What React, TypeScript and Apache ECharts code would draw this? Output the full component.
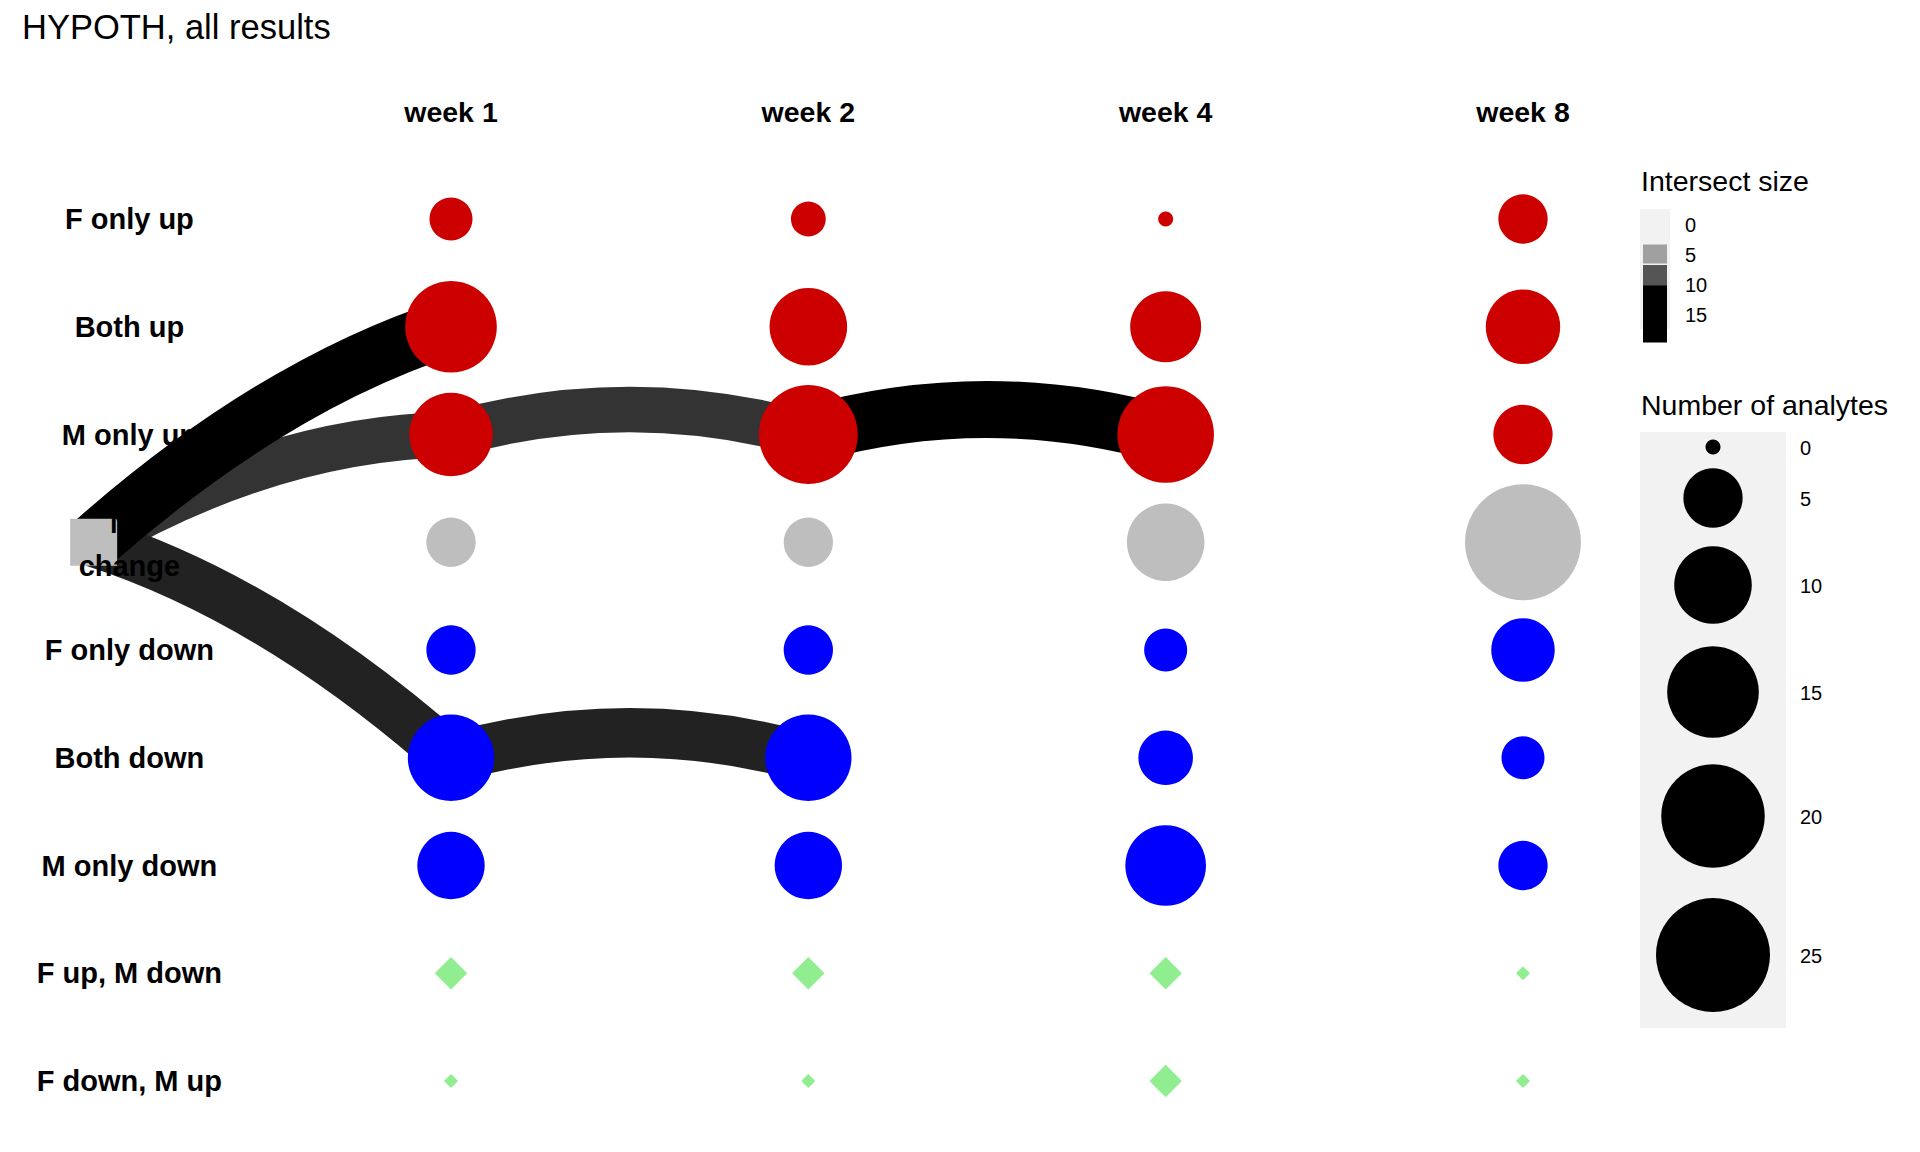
import React, { useEffect, useRef } from "react";
import * as echarts from "echarts";

const TITLE = "HYPOTH, all results";
const ROWS = [
  "F only up",
  "Both up",
  "M only up",
  "No change",
  "F only down",
  "Both down",
  "M only down",
  "F up, M down",
  "F down, M up",
];
const ROW_GROUP = ["up", "up", "up", "none", "down", "down", "down", "mixed", "mixed"];
const WEEKS = ["week 1", "week 2", "week 4", "week 8"];
// number of analytes per row, per week
const WEEK_1 = [2, 15, 12, 3, 3, 13, 7, 1, 0];
const WEEK_2 = [1, 10, 18, 3, 3, 13, 7, 1, 0];
const WEEK_4 = [0, 8, 17, 10, 2, 4, 11, 1, 1];
const WEEK_8 = [3, 9, 5, 26, 6, 2, 3, 0, 0];
const COUNTS = [WEEK_1, WEEK_2, WEEK_4, WEEK_8];

// flows between consecutive columns (column 0 = baseline "No change")
const FLOW_FROM_COL = [0, 1, 0, 1, 0, 2];
const FLOW_FROM_ROW = ["No change", "M only up", "No change", "Both down", "No change", "M only up"];
const FLOW_TO_ROW = ["M only up", "M only up", "Both down", "Both down", "Both up", "M only up"];
const FLOW_SIZE = [12, 12, 13, 13, 15, 15];

const INTERSECT_BREAKS = [0, 5, 10, 15];
const INTERSECT_GREYS = ["#f0f0f0", "#a0a0a0", "#555555", "#000000"];
const ANALYTE_BREAKS = [0, 5, 10, 15, 20, 25];

const GROUP_COLORS: Record<string, string> = {
  up: "#cd0000",
  none: "#bebebe",
  down: "#0000ff",
  mixed: "#90ee90",
};
const GROUP_SYMBOL: Record<string, string> = {
  up: "circle",
  none: "circle",
  down: "circle",
  mixed: "diamond",
};

const FONT = "'Liberation Sans', Arial, Helvetica, sans-serif";
const LABEL_X = 0.1;
const CURVE = 0.14;
const BASELINE_SIZE = 47;

const sizeOf = (n: number) => 15 + 19.8 * Math.sqrt(n);
const widthOf = (n: number) => 3.8 * n;

function hexToRgb(h: string) {
  const v = parseInt(h.slice(1), 16);
  return [(v >> 16) & 255, (v >> 8) & 255, v & 255];
}
function greyOf(n: number) {
  const b = INTERSECT_BREAKS;
  if (n <= b[0]) return INTERSECT_GREYS[0];
  if (n >= b[b.length - 1]) return INTERSECT_GREYS[b.length - 1];
  let i = 0;
  while (n > b[i + 1]) i++;
  const t = (n - b[i]) / (b[i + 1] - b[i]);
  const c0 = hexToRgb(INTERSECT_GREYS[i]);
  const c1 = hexToRgb(INTERSECT_GREYS[i + 1]);
  const c = c0.map((v, k) => Math.round(v + (c1[k] - v) * t));
  return `rgb(${c[0]},${c[1]},${c[2]})`;
}

function txt(text: string, x: number, y: number, fontSize: number, bold = false, align = "left", extra: any = {}) {
  return {
    type: "text",
    x,
    y,
    silent: true,
    z: 100,
    style: {
      text,
      fontSize,
      fontFamily: FONT,
      fontWeight: bold ? "bold" : "normal",
      fill: "#000",
      align,
      verticalAlign: "middle",
      ...extra,
    },
  };
}

export default function App() {
  const ref = useRef<HTMLDivElement>(null);
  useEffect(() => {
    if (!ref.current) return;
    const chart = echarts.init(ref.current, null, { renderer: "svg" });

    const flowData = FLOW_SIZE.map((s, i) => [
      FLOW_FROM_COL[i],
      ROWS.indexOf(FLOW_FROM_ROW[i]) + 1,
      FLOW_FROM_COL[i] + 1,
      ROWS.indexOf(FLOW_TO_ROW[i]) + 1,
      s,
    ]);

    const groups = ["up", "none", "down", "mixed"];
    const pointSeries = groups.map((g) => {
      const data: number[][] = [];
      COUNTS.forEach((arr, w) => {
        arr.forEach((v, r) => {
          if (ROW_GROUP[r] === g) data.push([w + 1, r + 1, v]);
        });
      });
      const factor = GROUP_SYMBOL[g] === "diamond" ? 0.93 : 1;
      return {
        type: "scatter",
        name: g,
        silent: true,
        z: 5,
        symbol: GROUP_SYMBOL[g],
        symbolSize: (val: number[]) => factor * sizeOf(val[2]),
        itemStyle: { color: GROUP_COLORS[g], opacity: 1 },
        emphasis: { disabled: true },
        data,
      };
    });

    const option: any = {
      animation: false,
      backgroundColor: "#ffffff",
      grid: { left: 4.33, top: 57.375, width: 1608, height: 1077.5 },
      xAxis: { type: "value", min: -0.25, max: 4.25, show: false },
      yAxis: { type: "value", min: -0.5, max: 9.5, inverse: true, show: false },
      series: [
        {
          type: "custom",
          name: "flows",
          silent: true,
          z: 1,
          encode: { x: [0, 2], y: [1, 3] },
          data: flowData,
          renderItem: (params: any, api: any) => {
            const a = api.coord([api.value(0), api.value(1)]);
            const b = api.coord([api.value(2), api.value(3)]);
            const n = api.value(4);
            const dx = b[0] - a[0];
            const cx = (a[0] + b[0]) / 2;
            const cy = (a[1] + b[1]) / 2 - CURVE * dx;
            return {
              type: "bezierCurve",
              z2: 0,
              shape: { x1: a[0], y1: a[1], x2: b[0], y2: b[1], cpx1: cx, cpy1: cy },
              style: { stroke: greyOf(n), lineWidth: widthOf(n), fill: null, lineCap: "butt" },
            };
          },
        },
        ...pointSeries,
      ],
    };
    chart.setOption(option);

    const graphics: any[] = [];
    graphics.push(txt(TITLE, 22, 26.5, 34.5));

    // baseline "No change" node, placed through the axes, above the flows
    const bp = chart.convertToPixel({ gridIndex: 0 }, [0, ROWS.indexOf("No change") + 1]) as number[];
    graphics.push({
      type: "rect",
      silent: true,
      z: 50,
      shape: { x: bp[0] - BASELINE_SIZE / 2, y: bp[1] - BASELINE_SIZE / 2, width: BASELINE_SIZE, height: BASELINE_SIZE },
      style: { fill: GROUP_COLORS.none },
    });

    // row labels and column headers, positioned through the axes
    ROWS.forEach((r, i) => {
      const p = chart.convertToPixel({ gridIndex: 0 }, [LABEL_X, i + 1]) as number[];
      if (r === "No change") {
        graphics.push(txt("No\nchange", p[0], p[1] + 2, 29, true, "center", { lineHeight: 43 }));
      } else {
        graphics.push(txt(r, p[0], p[1], 29, true, "center"));
      }
    });
    WEEKS.forEach((w, i) => {
      const p = chart.convertToPixel({ gridIndex: 0 }, [i + 1, 0]) as number[];
      graphics.push(txt(w, p[0], p[1] + 1, 28.5, true, "center"));
    });

    // Intersect size legend
    graphics.push(txt("Intersect size", 1641, 180.5, 28.5));
    graphics.push({
      type: "rect",
      silent: true,
      shape: { x: 1640, y: 209, width: 30, height: 120 },
      style: { fill: "#f2f2f2" },
    });
    INTERSECT_BREAKS.forEach((b, i) => {
      const cy = 224 + i * 30;
      const w = widthOf(b);
      if (w > 0)
        graphics.push({
          type: "rect",
          silent: true,
          shape: { x: 1643, y: cy - w / 2, width: 24, height: w },
          style: { fill: greyOf(b) },
        });
    });
    INTERSECT_BREAKS.forEach((b, i) => {
      graphics.push(txt(String(b), 1685, 224.5 + i * 30, 20));
    });

    // Number of analytes legend
    graphics.push(txt("Number of analytes", 1641, 404.5, 28.5));
    graphics.push({
      type: "rect",
      silent: true,
      shape: { x: 1640, y: 432, width: 146, height: 596 },
      style: { fill: "#f2f2f2" },
    });
    const centers = [447, 498, 585, 692, 816, 955];
    ANALYTE_BREAKS.forEach((b, i) => {
      graphics.push({
        type: "circle",
        silent: true,
        shape: { cx: 1713, cy: centers[i], r: sizeOf(b) / 2 },
        style: { fill: "#000" },
      });
      graphics.push(txt(String(b), 1800, centers[i] + 0.5, 20));
    });

    chart.setOption({ graphic: graphics });
    return () => chart.dispose();
  }, []);
  return (
    <div
      ref={ref}
      style={{ position: "fixed", left: 0, top: 0, width: 1920, height: 1152, background: "#fff" }}
    />
  );
}
